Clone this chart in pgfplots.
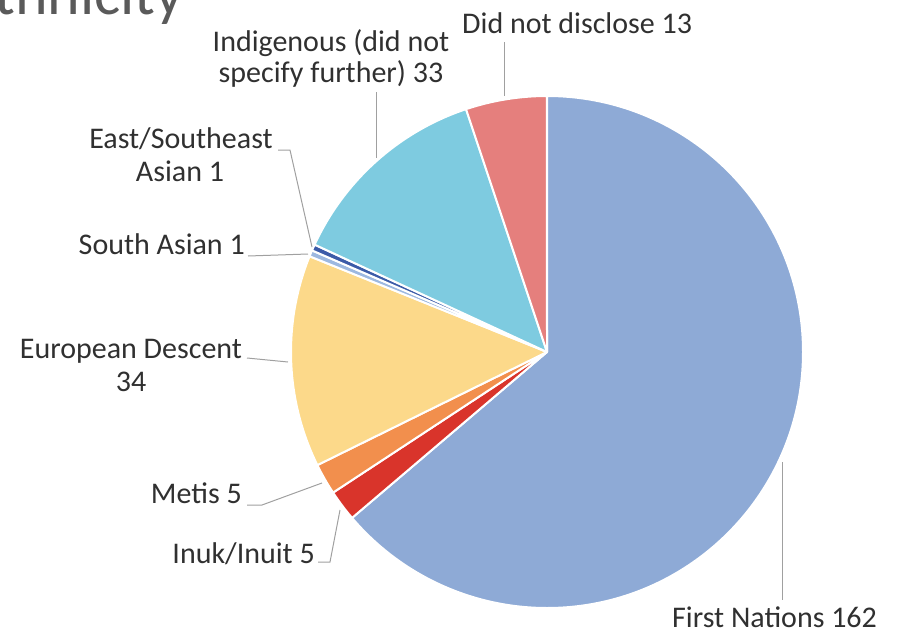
\documentclass[border=0pt]{standalone}
\usepackage{pgfplots}
\pgfplotsset{compat=1.18}
\usepackage{fontspec}
\setmainfont{Carlito}
\definecolor{fn}{HTML}{8EAAD6}
\definecolor{inuk}{HTML}{D9342B}
\definecolor{metis}{HTML}{F28F4D}
\definecolor{euro}{HTML}{FCD98A}
\definecolor{sasian}{HTML}{9DB8E0}
\definecolor{easian}{HTML}{3C5BA8}
\definecolor{indig}{HTML}{7ECBE0}
\definecolor{nodisc}{HTML}{E57F7D}
\definecolor{txt}{HTML}{303030}
\definecolor{lead}{HTML}{A0A0A0}
\begin{document}
\begin{tikzpicture}
\begin{axis}[
  name=ax,
  width=898pt, height=637pt, scale only axis,
  xmin=0, xmax=898, ymin=0, ymax=637, y dir=reverse,
  hide axis,
]
% slices, clockwise from 12 o'clock, counts out of 254
\xdef\cumul{90}
\foreach \v/\c in {162/fn, 5/inuk, 5/metis, 34/euro, 1/sasian, 1/easian, 33/indig, 13/nodisc}{
  \pgfmathsetmacro\b{\cumul - \v/254*360}
  \edef\temp{\noexpand\fill[\c, draw=white, line width=2pt, line join=round]
    (axis cs:547,352) -- ++(\cumul:256pt) arc[start angle=\cumul, end angle=\b, radius=256pt] -- cycle;}
  \temp
  \xdef\cumul{\b}
}
% leader lines
\draw[lead, line width=1pt] (axis cs:504,42) -- (axis cs:504,96);
\draw[lead, line width=1pt] (axis cs:376,92) -- (axis cs:376,158);
\draw[lead, line width=1pt] (axis cs:278,150) -- (axis cs:290,150) -- (axis cs:312,247);
\draw[lead, line width=1pt] (axis cs:248,256) -- (axis cs:308,254);
\draw[lead, line width=1pt] (axis cs:247,358) -- (axis cs:288,362);
\draw[lead, line width=1pt] (axis cs:247,505) -- (axis cs:262,505) -- (axis cs:322,483);
\draw[lead, line width=1pt] (axis cs:318,562) -- (axis cs:330,562) -- (axis cs:340,510);
\draw[lead, line width=1pt] (axis cs:782,462) -- (axis cs:782,600);
% labels
\begin{scope}[every node/.style={text=txt, font=\fontsize{30}{32}\selectfont, inner sep=0pt}]
\node[anchor=base west] at (axis cs:462,33) {Did not disclose 13};
\node[anchor=base] at (axis cs:331,52) {Indigenous (did not};
\node[anchor=base] at (axis cs:331,82) {specify further) 33};
\node[anchor=base] at (axis cs:181,148) {East/Southeast};
\node[anchor=base] at (axis cs:180,181) {Asian 1};
\node[anchor=base east] at (axis cs:245,254) {South Asian 1};
\node[anchor=base] at (axis cs:131,358) {European Descent};
\node[anchor=base] at (axis cs:131,391) {34};
\node[anchor=base east] at (axis cs:242,503) {Metis 5};
\node[anchor=base east] at (axis cs:315,563) {Inuk/Inuit 5};
\node[anchor=base west] at (axis cs:672,627) {First Nations 162};
\node[anchor=base east, text=txt!80, font=\fontsize{62}{64}\selectfont] at (axis cs:184,15) {Ethnicity};
\end{scope}
\end{axis}
\pgfresetboundingbox
\path[use as bounding box] (ax.south west) rectangle (ax.north east);
\end{tikzpicture}
\end{document}
